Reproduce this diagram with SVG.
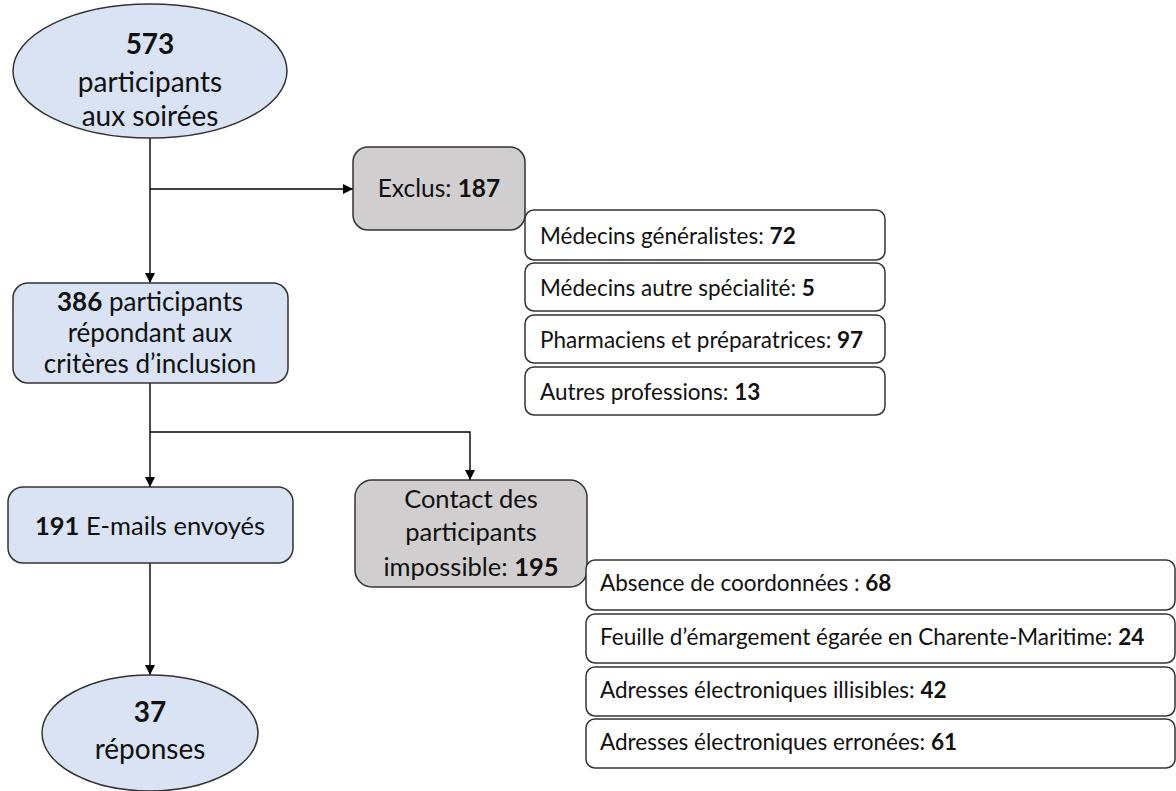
<svg xmlns="http://www.w3.org/2000/svg" width="1176" height="791" viewBox="0 0 1176 791">
<defs>
<marker id="arr" viewBox="0 0 10 10" refX="10" refY="5" markerWidth="10" markerHeight="10" markerUnits="userSpaceOnUse" orient="auto">
<path d="M0,0 L10,5 L0,10 z" fill="#000"/>
</marker>
<style>
text{font-family:Lato,"Liberation Sans",sans-serif;fill:#111;}
.b{font-weight:bold;}
.blue{fill:#dae3f3;stroke:#333;stroke-width:1.5;}
.gray{fill:#d0cece;stroke:#333;stroke-width:1.5;}
.item{fill:#fff;stroke:#333;stroke-width:1.5;}
.conn{fill:none;stroke:#000;stroke-width:1.4;}
.big{font-size:28px;text-anchor:middle;}
.mid{font-size:25.5px;text-anchor:middle;}
.lst{font-size:22.5px;}
</style>
</defs>
<g id="connectors">
<path class="conn" d="M150,138 V283" marker-end="url(#arr)"/>
<path class="conn" d="M150,189 H353" marker-end="url(#arr)"/>
<path class="conn" d="M150,383 V487" marker-end="url(#arr)"/>
<path class="conn" d="M150,432 H470 V480" marker-end="url(#arr)"/>
<path class="conn" d="M150,563 V675" marker-end="url(#arr)"/>
</g>
<g id="n573">
<ellipse class="blue" cx="150" cy="71" rx="137" ry="67"/>
<text class="big b" x="150" y="54">573</text>
<text class="big" x="150" y="92">participants</text>
<text class="big" x="150" y="126">aux soirées</text>
</g>
<g id="exclus">
<rect class="gray" x="353" y="147" width="172" height="83" rx="15"/>
<text class="mid" x="439" y="197" style="font-size:24.5px">Exclus: <tspan class="b">187</tspan></text>
</g>
<g id="exclus-list">
<rect class="item" x="525" y="210" width="360" height="50" rx="9"/>
<text class="lst" x="540" y="244">Médecins généralistes: <tspan class="b">72</tspan></text>
<rect class="item" x="525" y="263" width="360" height="48" rx="9"/>
<text class="lst" x="540" y="296">Médecins autre spécialité: <tspan class="b">5</tspan></text>
<rect class="item" x="525" y="315" width="360" height="48" rx="9"/>
<text class="lst" x="540" y="348">Pharmaciens et préparatrices: <tspan class="b">97</tspan></text>
<rect class="item" x="525" y="367" width="360" height="48" rx="9"/>
<text class="lst" x="540" y="400">Autres professions: <tspan class="b">13</tspan></text>
</g>
<g id="n386">
<rect class="blue" x="13" y="283" width="275" height="100" rx="15"/>
<text class="mid" x="150" y="311" style="font-size:26px"><tspan class="b">386</tspan> participants</text>
<text class="mid" x="150" y="342" style="font-size:26px">répondant aux</text>
<text class="mid" x="150" y="373" style="font-size:26px">critères d’inclusion</text>
</g>
<g id="n191">
<rect class="blue" x="8" y="487" width="285" height="76" rx="15"/>
<text class="mid" x="150" y="535"><tspan class="b">191</tspan> E-mails envoyés</text>
</g>
<g id="contact">
<rect class="gray" x="355" y="480" width="232" height="107" rx="17"/>
<text class="mid" x="471" y="508">Contact des</text>
<text class="mid" x="471" y="541">participants</text>
<text class="mid" x="471" y="576">impossible: <tspan class="b">195</tspan></text>
</g>
<g id="contact-list">
<rect class="item" x="586" y="560" width="589" height="50" rx="9"/>
<text class="lst" x="600" y="591">Absence de coordonnées : <tspan class="b">68</tspan></text>
<rect class="item" x="586" y="614" width="589" height="49" rx="9"/>
<text class="lst" x="600" y="645">Feuille d’émargement égarée en Charente-Maritime: <tspan class="b">24</tspan></text>
<rect class="item" x="586" y="667" width="589" height="49" rx="9"/>
<text class="lst" x="600" y="698">Adresses électroniques illisibles: <tspan class="b">42</tspan></text>
<rect class="item" x="586" y="719" width="589" height="49" rx="9"/>
<text class="lst" x="600" y="750">Adresses électroniques erronées: <tspan class="b">61</tspan></text>
</g>
<g id="n37">
<ellipse class="blue" cx="150" cy="733" rx="108" ry="58"/>
<text class="big b" x="150" y="722">37</text>
<text class="big" x="150" y="759">réponses</text>
</g>
</svg>
